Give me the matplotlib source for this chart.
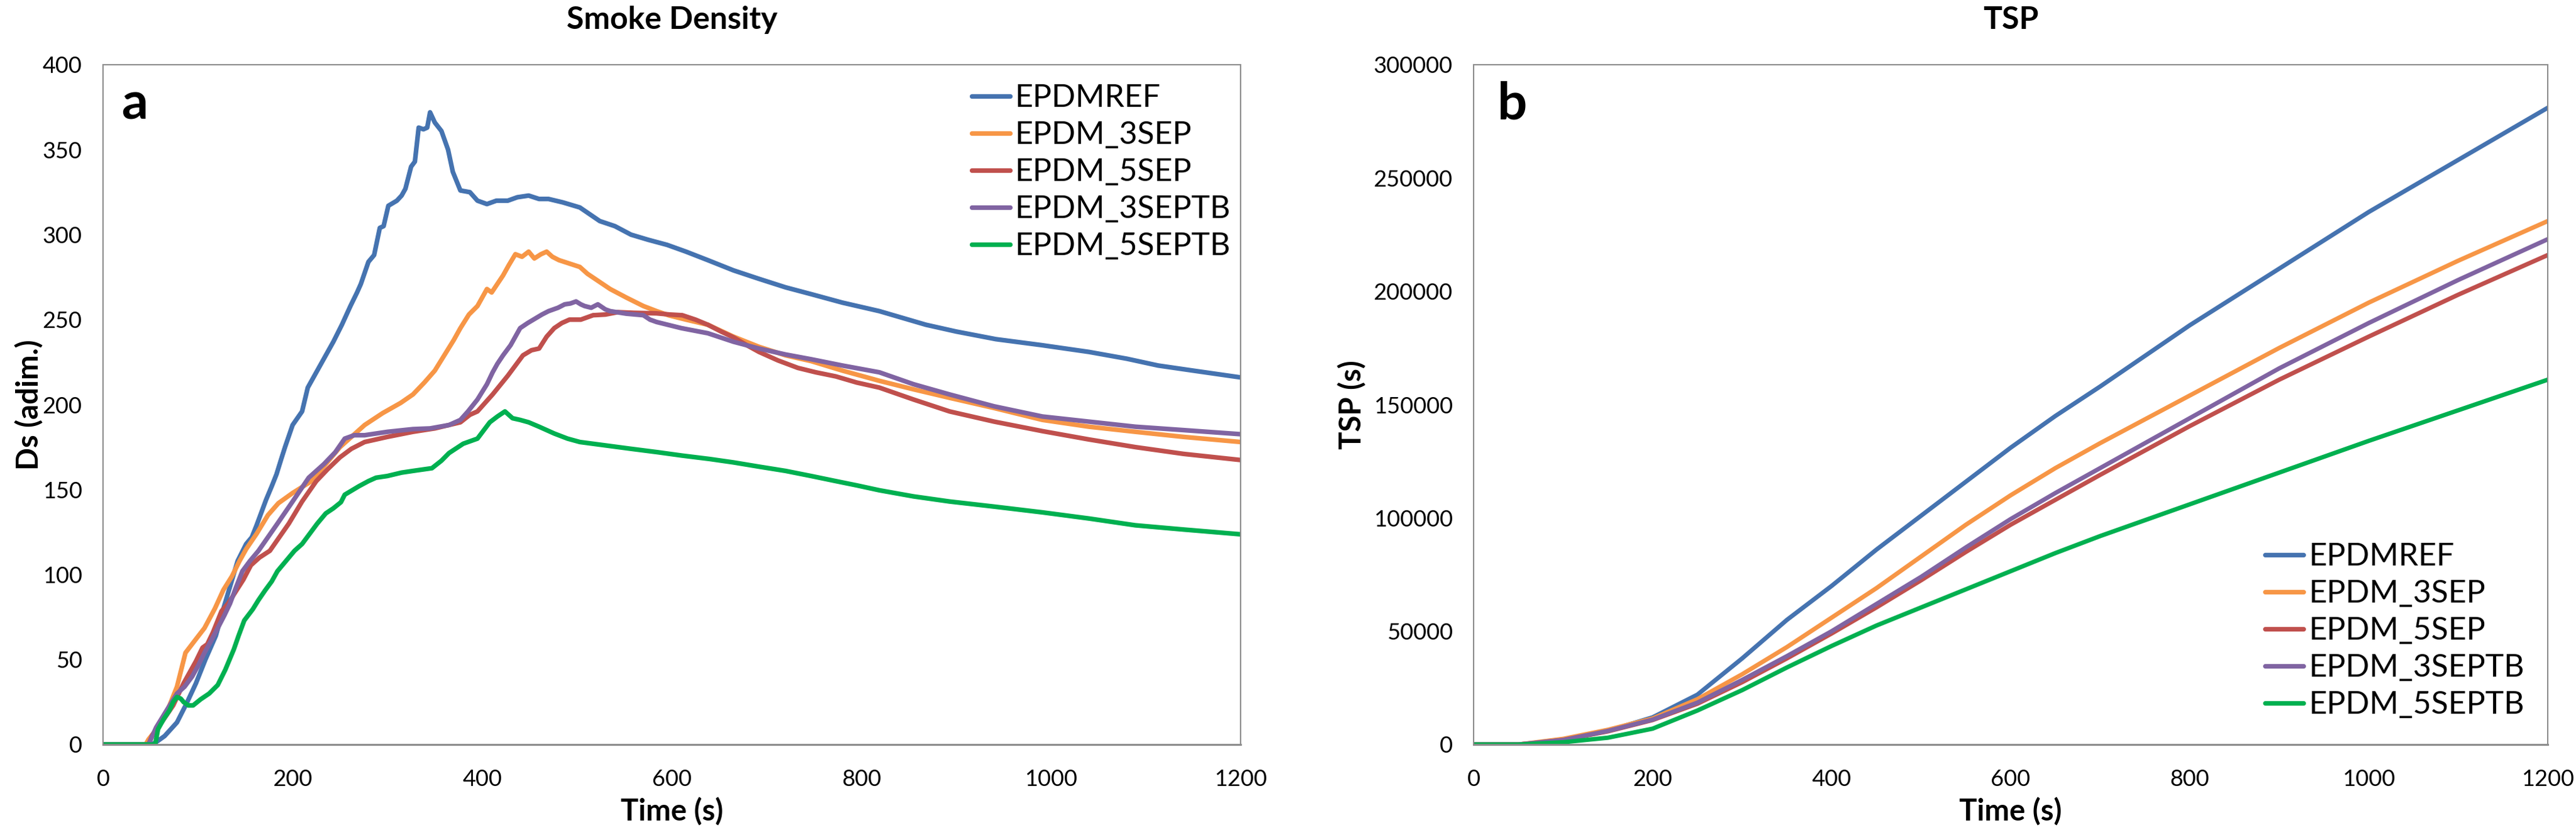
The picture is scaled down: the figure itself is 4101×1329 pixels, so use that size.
import numpy as np
import matplotlib
matplotlib.use("Agg")
import matplotlib.pyplot as plt

plt.rcParams['font.family'] = ['Lato', 'DejaVu Sans']

labels = ["EPDMREF", "EPDM_3SEP", "EPDM_5SEP", "EPDM_3SEPTB", "EPDM_5SEPTB"]
colors = ["#4573B0", "#F79646", "#C0504D", "#8064A2", "#00B050"]

# ---- Smoke density (Ds) : time / value pairs ----
ds_ref_t = [0, 50, 55, 65, 78, 88, 98, 108, 119, 127, 134, 142, 151, 157, 162, 172, 178, 183, 188, 192,
            200, 210, 216, 223, 232, 243, 252, 261, 268, 272, 280, 286, 292, 296, 301, 310, 315, 319, 325,
            329, 333, 338, 342, 345, 350, 357, 364, 369, 377, 387, 395, 405, 415, 427, 437, 449, 460, 470,
            485, 503, 524, 540, 557, 575, 595, 615, 638, 665, 692, 720, 747, 780, 819, 868, 900, 942, 990,
            1040, 1080, 1113, 1150, 1200]
ds_ref = [0, 0, 1, 5, 13, 24, 36, 50, 64, 80, 93, 108, 118, 122, 129, 144, 152, 159, 168, 175,
          188, 196, 210, 217, 226, 237, 247, 258, 266, 271, 284, 288, 304, 305, 317, 320, 323, 327, 340,
          343, 363, 362, 363, 372, 366, 361, 350, 337, 326, 325, 320, 318, 320, 320, 322, 323, 321, 321,
          319, 316, 308, 305, 300, 297, 294, 290, 285, 279, 274, 269, 265, 260, 255, 247, 243, 238.5, 235,
          231, 227, 223, 220, 216]

ds_3sep_t = [0, 45, 48, 58, 68, 78, 87, 98, 107, 118, 127, 136, 144, 151, 162, 174, 185, 200, 220, 235,
             250, 262, 276, 295, 314, 327, 339, 350, 360, 370, 377, 386, 395, 405, 410, 416, 422, 428, 435,
             442, 449, 455, 462, 468, 474, 481, 492, 503, 511, 519, 535, 552, 570, 584, 597, 615, 638, 665,
             692, 720, 747, 780, 819, 855, 893, 940, 991, 1040, 1089, 1140, 1200]
ds_3sep = [0, 0, 3, 10, 20, 34, 54, 62, 68.5, 80, 91, 99, 108, 115, 124, 135, 142, 148, 155, 165,
           175, 181, 188, 195, 201, 206, 213, 220, 229, 238, 245, 253, 258, 268, 266, 271, 276, 282, 288.5,
           287, 290, 286, 288.5, 290, 287, 285, 283, 281, 277, 274, 268, 263, 258, 255, 252.5, 250, 247, 240,
           234, 229, 225.6, 220, 214, 209, 204, 198, 191, 187, 184, 181, 178]

ds_5sep_t = [0, 48, 52, 63, 74, 85, 92, 98, 105, 110, 116, 125, 132, 140, 148, 156, 165, 176, 186, 196,
             210, 225, 237, 250, 262, 276, 300, 327, 350, 377, 387, 395, 411, 427, 443, 452, 460, 468, 476,
             484, 492, 504, 517, 530, 543, 560, 584, 598, 611, 625, 638, 652, 665, 679, 692, 712, 733, 752,
             773, 795, 819, 855, 893, 940, 991, 1040, 1089, 1140, 1200]
ds_5sep = [0, 0, 5.5, 14, 23, 36, 43, 49, 57, 59, 66, 78.5, 83, 90, 97, 105.5, 110, 114, 122, 130,
           143, 155, 162, 169, 174, 178, 181, 184, 186, 189.6, 194, 196, 206, 217, 229, 232, 233, 240, 245,
           248, 250, 250, 252.6, 253, 254.4, 254, 253.7, 253, 252.6, 250, 247, 243, 239.6, 235, 231, 226, 221.6, 219,
           216.6, 213, 210, 203, 196, 190, 184.4, 179.5, 175, 171, 167.4]

ds_3septb_t = [0, 48, 56, 67, 78, 86, 94, 100, 107, 114, 121, 128, 134, 140, 147, 155, 164, 174, 184, 200,
               217, 225, 233, 245, 255, 265, 276, 300, 327, 345, 365, 377, 385, 395, 405, 411, 416, 422, 430,
               440, 448, 457, 463, 470, 480, 487, 493, 499, 504, 508, 515, 522, 530, 535, 552, 570, 577, 584,
               610, 638, 665, 692, 720, 747, 780, 819, 855, 893, 940, 991, 1040, 1089, 1140, 1200]
ds_3septb = [0, 0, 10, 20, 30, 34, 40, 46, 54, 61, 68.5, 76, 83, 92, 102, 108, 114, 122, 130, 143,
             157, 161, 165, 172, 180, 182, 182, 184, 185.6, 186, 188, 191, 196, 203, 212, 219, 224, 229, 235,
             245, 248, 251, 253, 255, 257, 259, 259.5, 260.7, 259, 258, 257, 259, 256, 255, 253.5, 252.6, 250, 248.6,
             245, 242, 237, 233, 229.5, 226.7, 223, 219, 212, 206, 199, 193, 190, 187, 185, 182.6]

ds_5septb_t = [0, 55, 58, 64, 70, 74, 78, 82, 85, 90, 95, 103, 112, 121, 129, 138, 143, 149, 158, 164,
               171, 178, 184, 193, 202, 210, 218, 226, 235, 243, 251, 255, 270, 280, 288, 300, 315, 327, 347,
               357, 365, 380, 395, 408, 416, 424, 432, 440, 449, 460, 476, 490, 503, 530, 557, 585, 611, 640,
               665, 692, 720, 747, 773, 795, 819, 855, 893, 940, 991, 1040, 1089, 1140, 1200]
ds_5septb = [0, 0, 9, 15, 20, 25, 28, 27, 25, 23, 23, 26.6, 30, 35, 44, 56, 64, 73, 79.6, 85,
             90.7, 96, 102, 108, 114, 118, 124, 130, 136, 139, 142.6, 147, 152, 155, 157, 158, 160, 161, 162.6,
             167, 171.5, 177, 180, 189.6, 193, 196, 192, 191, 189.6, 187, 183, 180, 178, 176, 174, 172, 170, 168,
             166, 163.5, 161, 158, 155, 152.5, 149.6, 146, 143, 140, 136.6, 133, 129, 126.5, 123.7]

# ---- Total smoke production (TSP) ----
tsp_t = [0, 50, 100, 150, 200, 250, 300, 350, 400, 450, 500, 550, 600, 650, 700, 800, 900, 1000, 1100, 1200]
tsp_ref = [0, 0, 2000, 6000, 12000, 22000, 38000, 55000, 70000, 86000, 101000, 116000, 131000, 145000,
           158000, 185000, 210000, 235000, 258000, 281000]
tsp_3sep = [0, 0, 2500, 6500, 11500, 20000, 31000, 43000, 56000, 69000, 83000, 97000, 110000, 122000,
            133000, 154000, 175000, 195000, 213500, 231000]
tsp_5sep = [0, 0, 2000, 5800, 10800, 18000, 27500, 38000, 49000, 60500, 72500, 85000, 97000, 108000,
            119000, 140500, 161000, 180000, 198500, 216000]
tsp_3septb = [0, 0, 2000, 6000, 11000, 18500, 28500, 39000, 50000, 62000, 74000, 87000, 99500, 111000,
              122000, 144000, 166000, 186000, 205000, 223000]
tsp_5septb = [0, 0, 1000, 3000, 7000, 15000, 24000, 34000, 43500, 52500, 60500, 68500, 76500, 84500,
              92000, 106000, 120000, 134000, 147500, 161000]

ds_series = [(ds_ref_t, ds_ref), (ds_3sep_t, ds_3sep), (ds_5sep_t, ds_5sep),
             (ds_3septb_t, ds_3septb), (ds_5septb_t, ds_5septb)]
tsp_series = [tsp_ref, tsp_3sep, tsp_5sep, tsp_3septb, tsp_5septb]

W, H = 4101, 1329
fig = plt.figure(figsize=(W / 100, H / 100), dpi=100)
axl = fig.add_axes([164 / W, 144 / H, 1811 / W, 1082 / H])
axr = fig.add_axes([2346 / W, 144 / H, 1710 / W, 1082 / H])

for (t, v), c, lab in zip(ds_series, colors, labels):
    axl.plot(t, v, color=c, lw=5.3, label=lab, solid_capstyle='round', solid_joinstyle='round')
for v, c, lab in zip(tsp_series, colors, labels):
    axr.plot(tsp_t, v, color=c, lw=5.0, label=lab, solid_capstyle='round')

axl.set_ylim(0, 400)
axl.set_yticks(np.arange(0, 401, 50))
axr.set_ylim(0, 300000)
axr.set_yticks(np.arange(0, 300001, 50000))

for ax in (axl, axr):
    ax.set_xlim(0, 1200)
    ax.set_xticks(np.arange(0, 1201, 200))
    ax.tick_params(axis='both', length=0, labelsize=26)
    ax.tick_params(axis='x', pad=28)
    ax.tick_params(axis='y', pad=24)
    for s in ax.spines.values():
        s.set_color('#8c8c8c')
        s.set_linewidth(1.5)
    ax.spines['bottom'].set_linewidth(2.2)
    ax.set_xlabel("Time (s)", fontsize=34, fontweight='bold')
    ax.xaxis.set_label_coords(0.5, -0.099)
    ax.xaxis.label.set_va('center')

axl.set_ylabel("Ds (adim.)", fontsize=34, fontweight='bold')
axl.yaxis.set_label_coords(-0.0646, 0.5)
axl.yaxis.label.set_va('center')
axr.set_ylabel("TSP (s)", fontsize=34, fontweight='bold')
axr.yaxis.set_label_coords(-0.113, 0.5)
axr.yaxis.label.set_va('center')

axl.text(0.5, 1.0665, "Smoke Density", transform=axl.transAxes, ha='center', va='center',
         fontsize=36, fontweight='bold')
axr.text(0.5, 1.0665, "TSP", transform=axr.transAxes, ha='center', va='center',
         fontsize=36, fontweight='bold')

axl.text(30 / 1811, 1 - 87 / 1082, "a", transform=axl.transAxes, ha='left', va='baseline',
         fontsize=60, fontweight='bold')
axr.text(38 / 1710, 1 - 87 / 1082, "b", transform=axr.transAxes, ha='left', va='baseline',
         fontsize=60, fontweight='bold')

leg_kw = dict(frameon=False, fontsize=36, handlelength=1.22, handletextpad=0.16,
              labelspacing=0.26, borderaxespad=0, borderpad=0)
lg = axl.legend(loc='upper right', bbox_to_anchor=(1 - 16 / 1811, 1 - 30 / 1082), **leg_kw)
for h in lg.get_lines():
    h.set_linewidth(5.3)
lg = axr.legend(loc='lower right', bbox_to_anchor=(1 - 37 / 1710, 40 / 1082), **leg_kw)
for h in lg.get_lines():
    h.set_linewidth(5.3)

fig.savefig("out.png", dpi=100)
